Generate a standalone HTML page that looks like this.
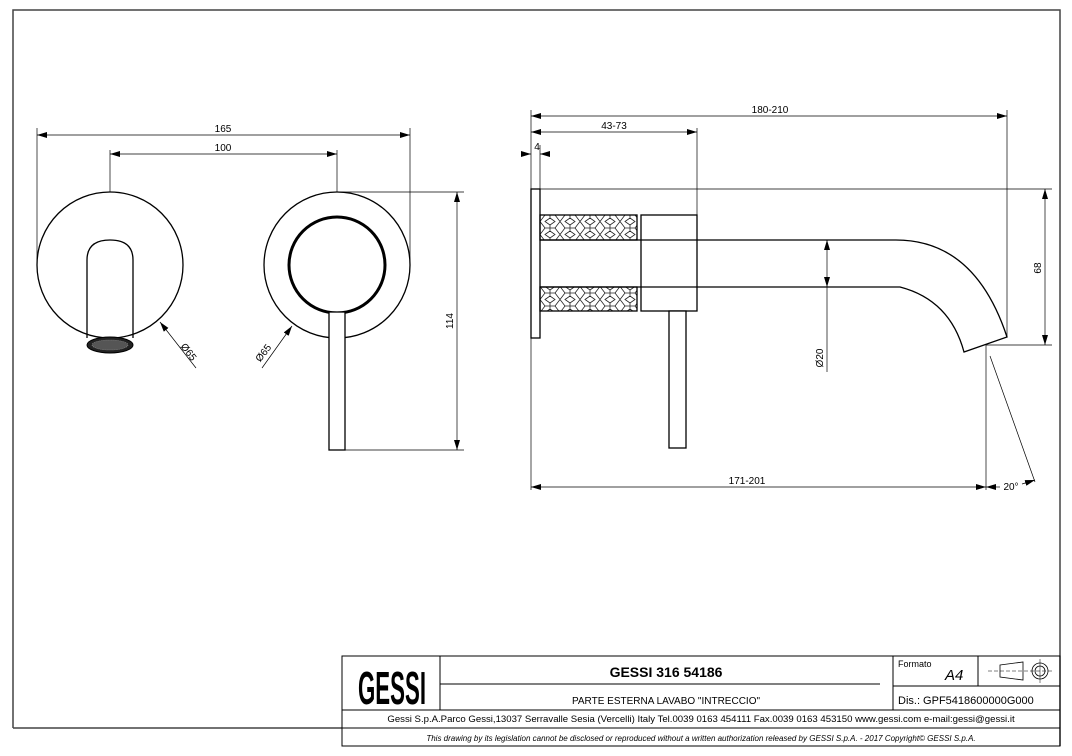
<!DOCTYPE html>
<html><head><meta charset="utf-8"><style>
html,body{margin:0;padding:0;background:#fff;}
svg{display:block;font-family:"Liberation Sans",Arial,sans-serif;}
</style></head><body>
<svg width="1072" height="756" viewBox="0 0 1072 756" xmlns="http://www.w3.org/2000/svg">
<defs>
<pattern id="kn" width="20" height="13" patternUnits="userSpaceOnUse" x="540" y="215">
<path d="M0 6.5 L5 0 L15 0 L20 6.5 L15 13 L5 13 Z M10 0 L10 3 M10 10 L10 13 M5 6.5 L10 3 L15 6.5 L10 10 Z" fill="none" stroke="#222" stroke-width="0.8"/>
</pattern>
<marker id="a" viewBox="0 0 10 6" refX="10" refY="3" markerWidth="10" markerHeight="6" orient="auto-start-reverse" markerUnits="userSpaceOnUse"><path d="M0 0 L10 3 L0 6 Z" fill="#000"/></marker>
</defs>
<!-- frame -->
<path d="M13 728 L13 10 L1060 10 L1060 746" fill="none" stroke="#444" stroke-width="1.5"/>
<line x1="13" y1="728" x2="342" y2="728" stroke="#444" stroke-width="1.5"/>

<g stroke="#000" fill="none" stroke-width="1">
<line x1="37" y1="128" x2="37" y2="265" stroke-width="0.7"/>
<line x1="410" y1="128" x2="410" y2="265" stroke-width="0.7"/>
<line x1="110" y1="150" x2="110" y2="192" stroke-width="0.7"/>
<line x1="337" y1="150" x2="337" y2="192" stroke-width="0.7"/>
<line x1="37" y1="135" x2="410" y2="135" stroke-width="0.7" marker-start="url(#a)" marker-end="url(#a)"/>
<line x1="110" y1="154" x2="337" y2="154" stroke-width="0.7" marker-start="url(#a)" marker-end="url(#a)"/>
<line x1="337" y1="192" x2="464" y2="192" stroke-width="0.7"/>
<line x1="345" y1="450" x2="464" y2="450" stroke-width="0.7"/>
<line x1="457" y1="192" x2="457" y2="450" stroke-width="0.7" marker-start="url(#a)" marker-end="url(#a)"/>
<circle cx="110" cy="265" r="73" stroke-width="1.3"/>
<path d="M87 260 L87 338 M133 260 L133 338 M87 260 Q87 240 110 240 Q133 240 133 260" fill="#fff" stroke-width="1.3"/>
<ellipse cx="110" cy="345" rx="23" ry="8" fill="#222"/>
<ellipse cx="110" cy="345" rx="18" ry="5" fill="#555" stroke="#999" stroke-width="0.6" stroke-dasharray="1 1"/>
<line x1="160" y1="322" x2="196" y2="368" stroke-width="0.7" marker-start="url(#a)"/>
<circle cx="337" cy="265" r="73" stroke-width="1.3"/>
<circle cx="337" cy="265" r="48" stroke-width="3"/>
<rect x="329" y="312" width="16" height="138" fill="#fff" stroke-width="1.3"/>
<line x1="292" y1="326" x2="262" y2="368" stroke-width="0.7" marker-start="url(#a)"/>

<line x1="531" y1="110" x2="531" y2="490" stroke-width="0.7"/>
<line x1="1007" y1="110" x2="1007" y2="337" stroke-width="0.7"/>
<line x1="697" y1="128" x2="697" y2="215" stroke-width="0.7"/>
<line x1="540" y1="145" x2="540" y2="189" stroke-width="0.7"/>
<line x1="531" y1="116" x2="1007" y2="116" stroke-width="0.7" marker-start="url(#a)" marker-end="url(#a)"/>
<line x1="531" y1="132" x2="697" y2="132" stroke-width="0.7" marker-start="url(#a)" marker-end="url(#a)"/>
<line x1="522" y1="154" x2="531" y2="154" stroke-width="0.7" marker-end="url(#a)"/>
<line x1="549" y1="154" x2="540" y2="154" stroke-width="0.7" marker-end="url(#a)"/>
<line x1="540" y1="189" x2="1052" y2="189" stroke-width="0.7"/>
<line x1="986" y1="345" x2="1052" y2="345" stroke-width="0.7"/>
<line x1="1045" y1="189" x2="1045" y2="345" stroke-width="0.7" marker-start="url(#a)" marker-end="url(#a)"/>
<line x1="827" y1="240" x2="827" y2="287" stroke-width="0.7" marker-start="url(#a)" marker-end="url(#a)"/>
<line x1="827" y1="287" x2="827" y2="372" stroke-width="0.7"/>
<line x1="986" y1="345" x2="986" y2="490" stroke-width="0.7"/>
<line x1="531" y1="487" x2="986" y2="487" stroke-width="0.7" marker-start="url(#a)" marker-end="url(#a)"/>
<line x1="1000" y1="487" x2="986" y2="487" stroke-width="0.7" marker-end="url(#a)"/>
<line x1="990" y1="356" x2="1035" y2="482" stroke-width="0.7"/>
<line x1="1022" y1="484" x2="1035" y2="480" stroke-width="0.7" marker-end="url(#a)"/>

<rect x="531" y="189" width="9" height="149" stroke-width="1.3"/>
<rect x="540" y="215" width="97" height="25" fill="url(#kn)" stroke-width="1.3"/>
<rect x="540" y="287" width="97" height="24" fill="url(#kn)" stroke-width="1.3"/>
<rect x="641" y="215" width="56" height="96" stroke-width="1.3"/>
<path d="M540 240 L896 240 Q975 240 1007 337 L964 352 Q950 300 900 287 L540 287" stroke-width="1.3"/>
<rect x="669" y="311" width="17" height="137" fill="#fff" stroke-width="1.3"/>
</g>

<g font-size="10" fill="#000">
<text x="223" y="132" text-anchor="middle">165</text>
<text x="223" y="151" text-anchor="middle">100</text>
<text transform="translate(453,321) rotate(-90)" text-anchor="middle">114</text>
<text transform="translate(186,354) rotate(52)" text-anchor="middle">Ø65</text>
<text transform="translate(266,355) rotate(-52)" text-anchor="middle">Ø65</text>
<text x="770" y="113" text-anchor="middle">180-210</text>
<text x="614" y="129" text-anchor="middle">43-73</text>
<text x="537" y="150" text-anchor="middle">4</text>
<text transform="translate(1041,268) rotate(-90)" text-anchor="middle">68</text>
<text transform="translate(823,358) rotate(-90)" text-anchor="middle">Ø20</text>
<text x="747" y="484" text-anchor="middle">171-201</text>
<text x="1011" y="490" text-anchor="middle">20°</text>
</g>

<g stroke="#000" fill="none" stroke-width="1">
<rect x="342" y="656" width="718" height="90"/>
<line x1="342" y1="710" x2="1060" y2="710"/>
<line x1="342" y1="728" x2="1060" y2="728"/>
<line x1="440" y1="656" x2="440" y2="710"/>
<line x1="893" y1="656" x2="893" y2="710"/>
<line x1="978" y1="656" x2="978" y2="686"/>
<line x1="893" y1="686" x2="1060" y2="686"/>
<line x1="440" y1="684" x2="880" y2="684"/>
<path d="M1000 665 L1023 662 L1023 680 L1000 677 Z" stroke-width="0.8"/>
<circle cx="1040" cy="671" r="8" stroke-width="0.8"/>
<circle cx="1040" cy="671" r="5" stroke-width="0.8"/>
<line x1="988" y1="671" x2="1053" y2="671" stroke-width="0.5" stroke-dasharray="4 2"/>
<line x1="1040" y1="659" x2="1040" y2="683" stroke-width="0.5"/>
</g>
<g transform="translate(358,704) scale(1,1.45)">
<text x="0" y="0" font-size="32" font-weight="bold" textLength="68" lengthAdjust="spacingAndGlyphs">GESSI</text>
</g>
<text x="666" y="677" font-size="14" font-weight="bold" text-anchor="middle">GESSI 316 54186</text>
<text x="666" y="704" font-size="10" text-anchor="middle">PARTE ESTERNA LAVABO "INTRECCIO"</text>
<text x="898" y="667" font-size="9">Formato</text>
<text x="945" y="680" font-size="15" font-style="italic">A4</text>
<text x="898" y="704" font-size="11">Dis.: GPF5418600000G000</text>
<text x="701" y="722" font-size="9.6" text-anchor="middle">Gessi S.p.A.Parco Gessi,13037 Serravalle Sesia (Vercelli) Italy Tel.0039 0163 454111 Fax.0039 0163 453150 www.gessi.com e-mail:gessi@gessi.it</text>
<text x="701" y="741" font-size="8" font-style="italic" text-anchor="middle">This drawing by its legislation cannot be disclosed or reproduced without a written authorization released by GESSI S.p.A. - 2017 Copyright© GESSI S.p.A.</text>
</svg>
</body></html>
